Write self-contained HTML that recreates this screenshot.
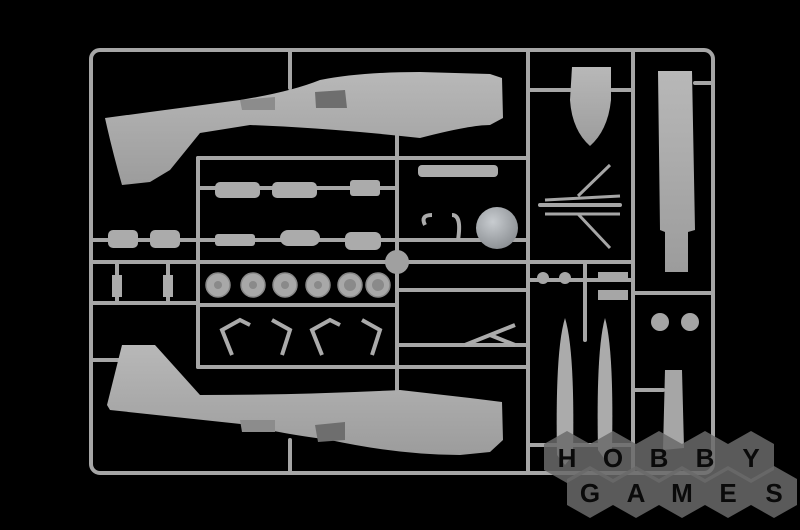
<!DOCTYPE html>
<html><head><meta charset="utf-8"><style>
html,body{margin:0;padding:0;background:#000;width:800px;height:530px;overflow:hidden}
svg{display:block}
text{font-family:"Liberation Sans",sans-serif;font-weight:bold}
</style></head><body>
<svg width="800" height="530" viewBox="0 0 800 530" xmlns="http://www.w3.org/2000/svg">
<defs>
<linearGradient id="fus" x1="0" y1="0" x2="0" y2="1">
<stop offset="0" stop-color="#b8b8b8"/><stop offset="1" stop-color="#9c9c9c"/>
</linearGradient>
<radialGradient id="ball" cx="0.4" cy="0.35" r="0.7">
<stop offset="0" stop-color="#c8ccd0"/><stop offset="1" stop-color="#8a8e92"/>
</radialGradient>
</defs>
<rect width="800" height="530" fill="#000"/>
<!-- sprue frame -->
<g stroke="#a6a6a6" stroke-width="4" fill="none" stroke-linecap="round">
<rect x="91" y="50" width="622" height="423" rx="9"/>
<line x1="290" y1="50" x2="290" y2="88"/>
<line x1="397" y1="135" x2="397" y2="390"/>
<line x1="528" y1="50" x2="528" y2="473"/>
<line x1="198" y1="158" x2="528" y2="158"/>
<line x1="198" y1="158" x2="198" y2="367"/>
<line x1="91" y1="262" x2="633" y2="262"/>
<line x1="198" y1="305" x2="397" y2="305"/>
<line x1="198" y1="367" x2="528" y2="367"/>
<line x1="633" y1="50" x2="633" y2="473"/>
<line x1="633" y1="293" x2="713" y2="293"/>
<line x1="290" y1="440" x2="290" y2="473"/>
<line x1="91" y1="240" x2="198" y2="240"/>
<line x1="91" y1="303" x2="198" y2="303"/>
<line x1="91" y1="360" x2="120" y2="360"/>
<line x1="117" y1="262" x2="117" y2="303"/>
<line x1="168" y1="262" x2="168" y2="303"/>
<line x1="397" y1="240" x2="528" y2="240"/>
<line x1="198" y1="188" x2="397" y2="188"/>
<line x1="198" y1="240" x2="397" y2="240"/>
<line x1="397" y1="290" x2="528" y2="290"/>
<line x1="397" y1="345" x2="528" y2="345"/>
<line x1="540" y1="205" x2="620" y2="205"/>
<line x1="528" y1="90" x2="570" y2="90"/>
<line x1="612" y1="90" x2="633" y2="90"/>
<line x1="695" y1="83" x2="713" y2="83"/>
<line x1="585" y1="262" x2="585" y2="340"/>
<line x1="528" y1="280" x2="585" y2="280"/>
<line x1="585" y1="280" x2="633" y2="280"/>
<line x1="528" y1="445" x2="633" y2="445"/>
<line x1="633" y1="390" x2="663" y2="390"/>
</g>
<!-- top fuselage -->
<path d="M105,118 L150,112 L240,100 Q290,92 320,80 Q360,72 420,72 L490,74 L502,78 L503,118 L490,125 Q470,125 420,138 Q330,128 250,125 L200,133 L170,170 L150,182 L122,185 Q112,150 105,118 Z" fill="url(#fus)"/>
<path d="M315,92 L345,90 L347,108 L316,108 Z" fill="#6e6e6e"/>
<path d="M240,100 L275,97 L275,110 L242,110 Z" fill="#8c8c8c"/>
<!-- bottom fuselage -->
<path d="M107,405 L122,345 L155,345 L200,395 Q300,395 400,390 L470,398 L502,402 L503,440 L490,452 L460,455 Q400,455 330,440 Q270,432 250,425 L110,410 Z" fill="url(#fus)"/>
<path d="M315,425 L345,422 L345,440 L318,442 Z" fill="#6e6e6e"/>
<path d="M240,420 L275,420 L275,432 L242,432 Z" fill="#8c8c8c"/>
<!-- small parts top middle -->
<g fill="#ababab">
<rect x="215" y="182" width="45" height="16" rx="5"/>
<rect x="272" y="182" width="45" height="16" rx="5"/>
<rect x="350" y="180" width="30" height="16" rx="3"/>
<rect x="418" y="165" width="80" height="12" rx="4"/>
<rect x="108" y="230" width="30" height="18" rx="5"/>
<rect x="150" y="230" width="30" height="18" rx="5"/>
<rect x="215" y="234" width="40" height="12" rx="3"/>
<rect x="280" y="230" width="40" height="16" rx="8"/>
<rect x="345" y="232" width="36" height="18" rx="6"/>
<rect x="112" y="275" width="10" height="22"/>
<rect x="163" y="275" width="10" height="22"/>
</g>
<g fill="none" stroke="#ababab" stroke-width="4">
<path d="M232,355 L222,330 L240,320 L250,325"/>
<path d="M282,355 L290,330 L272,320"/>
<path d="M322,355 L312,330 L330,320 L340,325"/>
<path d="M372,355 L380,330 L362,320"/>
<path d="M425,225 Q420,215 432,215 M452,215 Q462,215 458,240"/>
<path d="M465,345 L515,325 M490,335 L515,345"/>
</g>
<circle cx="497" cy="228" r="21" fill="url(#ball)"/>
<circle cx="397" cy="262" r="12" fill="#a0a0a0"/>
<!-- wheels -->
<g fill="#a8a8a8" stroke="#888" stroke-width="1.5">
<circle cx="218" cy="285" r="12"/><circle cx="253" cy="285" r="12"/>
<circle cx="285" cy="285" r="12"/><circle cx="318" cy="285" r="12"/>
<circle cx="350" cy="285" r="12"/><circle cx="378" cy="285" r="12"/>
</g>
<g fill="#8a8a8a"><circle cx="218" cy="285" r="4"/><circle cx="253" cy="285" r="4"/><circle cx="285" cy="285" r="4"/><circle cx="318" cy="285" r="4"/><circle cx="350" cy="285" r="6"/><circle cx="378" cy="285" r="6"/></g>
<!-- right column -->
<path d="M572,67 L611,67 L611,100 Q608,130 590,146 Q572,130 570,100 Z" fill="url(#fus)"/>
<path d="M658,71 L692,71 L695,230 L688,232 L688,272 L665,272 L665,232 L660,230 Z" fill="url(#fus)"/>
<g stroke="#a6a6a6" stroke-width="3" fill="none">
<path d="M545,200 L620,196 M545,214 L620,214 M578,196 L610,165 M578,214 L610,248"/>
</g>
<path d="M565,318 Q575,350 573,455 L565,465 L557,455 Q555,350 565,318 Z" fill="#ababab"/>
<path d="M605,318 Q614,350 612,450 L605,460 L598,450 Q596,350 605,318 Z" fill="#ababab"/>
<path d="M665,370 L682,370 L684,448 L663,450 Z" fill="#a6a6a6"/>
<circle cx="660" cy="322" r="9" fill="#a6a6a6"/><circle cx="690" cy="322" r="9" fill="#a6a6a6"/>
<circle cx="543" cy="278" r="6" fill="#a6a6a6"/><circle cx="565" cy="278" r="6" fill="#a6a6a6"/>
<rect x="598" y="272" width="30" height="10" fill="#a6a6a6"/>
<rect x="598" y="290" width="30" height="10" fill="#a6a6a6"/>
<!-- watermark -->
<g fill="#6a6a6a" fill-opacity="0.85">
<polygon points="567,431 590,444 590,470 567,483 544,470 544,444"/>
<polygon points="613,431 636,444 636,470 613,483 590,470 590,444"/>
<polygon points="659,431 682,444 682,470 659,483 636,470 636,444"/>
<polygon points="705,431 728,444 728,470 705,483 682,470 682,444"/>
<polygon points="751,431 774,444 774,470 751,483 728,470 728,444"/>
<polygon points="590,466 613,479 613,505 590,518 567,505 567,479"/>
<polygon points="636,466 659,479 659,505 636,518 613,505 613,479"/>
<polygon points="682,466 705,479 705,505 682,518 659,505 659,479"/>
<polygon points="728,466 751,479 751,505 728,518 705,505 705,479"/>
<polygon points="774,466 797,479 797,505 774,518 751,505 751,479"/>
</g>
<g fill="#0a0a0a" font-size="26" text-anchor="middle">
<text x="567" y="467">H</text><text x="613" y="467">O</text><text x="659" y="467">B</text><text x="705" y="467">B</text><text x="751" y="467">Y</text>
<text x="590" y="502">G</text><text x="636" y="502">A</text><text x="682" y="502">M</text><text x="728" y="502">E</text><text x="774" y="502">S</text>
</g>
</svg>
</body></html>
